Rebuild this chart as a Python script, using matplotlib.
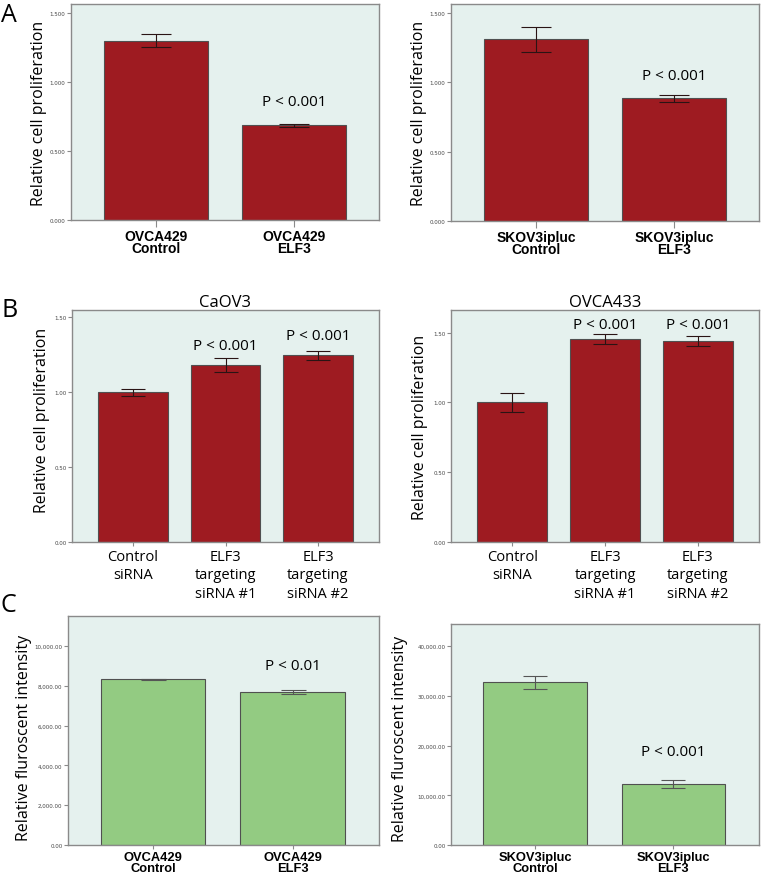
import matplotlib
matplotlib.use("Agg")
import matplotlib.pyplot as plt
from matplotlib.ticker import FuncFormatter

W, H = 761, 879

# Panel A: cell proliferation after ELF3 overexpression
a_left_labels = ["OVCA429\nControl", "OVCA429\nELF3"]
a_left_vals = [1.30, 0.686]
a_left_err = [0.05, 0.013]
a_right_labels = ["SKOV3ipluc\nControl", "SKOV3ipluc\nELF3"]
a_right_vals = [1.31, 0.885]
a_right_err = [0.088, 0.024]

# Panel B: cell proliferation after ELF3 knockdown
b_labels = ["Control\nsiRNA", "ELF3\ntargeting\nsiRNA #1", "ELF3\ntargeting\nsiRNA #2"]
b_left_vals = [1.00, 1.184, 1.247]
b_left_err = [0.024, 0.048, 0.03]
b_right_vals = [1.00, 1.455, 1.438]
b_right_err = [0.07, 0.038, 0.037]

# Panel C: fluorescent intensity
c_left_labels = ["OVCA429\nControl", "OVCA429\nELF3"]
c_left_vals = [8328, 7692]
c_left_err = [15, 100]
c_right_labels = ["SKOV3ipluc\nControl", "SKOV3ipluc\nELF3"]
c_right_vals = [32709, 12308]
c_right_err = [1340, 800]

RED = "#9e1b21"
GREEN = "#93cb82"
BG = "#e5f1ee"
SPINE = "#8a8a8a"
SANS = ["Open Sans", "DejaVu Sans"]
BOLD = ["Liberation Sans", "DejaVu Sans"]

fig = plt.figure(figsize=(W / 100, H / 100), dpi=100)


def px_axes(x0, y0, x1, y1):
    return fig.add_axes([x0 / W, 1 - y1 / H, (x1 - x0) / W, (y1 - y0) / H])


def bar_panel(ax, labels, vals, errs, color, ecolor, ylim, xlim, fmt, ylabel,
              ylabel_xy, pvals, bold_x=True, capsize=10, xtick_len=5, xfs=10):
    x = list(range(len(vals)))
    ax.set_facecolor(BG)
    ax.bar(x, vals, width=0.75, color=color, edgecolor="#505050", linewidth=0.8, zorder=2)
    ax.errorbar(x, vals, yerr=errs, fmt="none", ecolor=ecolor, elinewidth=0.8,
                capsize=capsize, capthick=0.8, zorder=3)
    ax.set_xlim(*xlim)
    ax.set_ylim(*ylim)
    ax.yaxis.set_major_formatter(FuncFormatter(fmt))
    ax.tick_params(axis="y", labelsize=4, labelcolor="#444444", length=3,
                   color=SPINE, width=0.8, pad=1)
    ax.set_xticks(x)
    if bold_x:
        ax.set_xticklabels(labels, fontsize=xfs, fontweight="bold", family=BOLD,
                           linespacing=0.85)
        pad = 1.5
    else:
        ax.set_xticklabels(labels, fontsize=10.5, family=SANS, linespacing=1.3)
        pad = 2
    ax.tick_params(axis="x", length=xtick_len, color=SPINE, width=0.8, pad=pad)
    for s in ax.spines.values():
        s.set_color(SPINE)
        s.set_linewidth(1.0)
    ax.set_ylabel(ylabel, fontsize=11.5, family=SANS)
    ax.yaxis.set_label_coords(*ylabel_xy)
    for i, txt, off in pvals:
        ax.annotate(txt, xy=(i, vals[i] + errs[i]), xytext=(0, off * 0.72),
                    textcoords="offset points", ha="center", va="center",
                    fontsize=11, family=SANS)


f3 = lambda v, p: f"{v:.3f}"
f2 = lambda v, p: f"{v:.2f}"
fc = lambda v, p: f"{v:,.2f}"

# A
ax = px_axes(71, 5, 379, 221)
bar_panel(ax, a_left_labels, a_left_vals, a_left_err, RED, "#2a1414",
          (0, 1.565), (-0.616, 1.616), f3, "Relative cell proliferation",
          (-0.078, 0.5), [(1, "P < 0.001", 22)], capsize=11)
ax.set_yticks([0, 0.5, 1.0, 1.5])

ax = px_axes(451, 5, 759, 222)
bar_panel(ax, a_right_labels, a_right_vals, a_right_err, RED, "#2a1414",
          (0, 1.565), (-0.616, 1.616), f3, "Relative cell proliferation",
          (-0.079, 0.5), [(1, "P < 0.001", 19)], capsize=11)
ax.set_yticks([0, 0.5, 1.0, 1.5])

# B
ax = px_axes(72, 311, 379, 543)
bar_panel(ax, b_labels, b_left_vals, b_left_err, RED, "#2a1414",
          (0, 1.55), (-0.66, 2.66), f2, "Relative cell proliferation",
          (-0.072, 0.53), [(1, "P < 0.001", 12), (2, "P < 0.001", 15)],
          bold_x=False, capsize=8.5, xtick_len=3)
ax.set_yticks([0, 0.5, 1.0, 1.5])
ax.set_title("CaOV3", fontsize=12, family=SANS, pad=3)

ax = px_axes(451, 311, 759, 543)
bar_panel(ax, b_labels, b_right_vals, b_right_err, RED, "#2a1414",
          (0, 1.662), (-0.66, 2.66), f2, "Relative cell proliferation",
          (-0.074, 0.5), [(1, "P < 0.001", 9), (2, "P < 0.001", 12)],
          bold_x=False, capsize=8.5, xtick_len=3)
ax.set_yticks([0, 0.5, 1.0, 1.5])
ax.set_title("OVCA433", fontsize=12, family=SANS, pad=3)

# C
ax = px_axes(68, 617, 379, 846)
bar_panel(ax, c_left_labels, c_left_vals, c_left_err, GREEN, "#555555",
          (0, 11505), (-0.61, 1.62), fc, "Relative fluroscent intensity",
          (-0.117, 0.47), [(1, "P < 0.01", 24)], capsize=9, xtick_len=3, xfs=9.3)
ax.set_yticks([0, 2000, 4000, 6000, 8000, 10000])

ax = px_axes(451, 625, 759, 846)
bar_panel(ax, c_right_labels, c_right_vals, c_right_err, GREEN, "#555555",
          (0, 44480), (-0.61, 1.62), fc, "Relative fluroscent intensity",
          (-0.139, 0.486), [(1, "P < 0.001", 28)], capsize=8.5, xtick_len=3, xfs=9.3)
ax.set_yticks([0, 10000, 20000, 30000, 40000])

# panel letters
for letter, ytop in [("A", 3), ("B", 298), ("C", 593)]:
    fig.text(1 / W, 1 - ytop / H, letter, fontsize=18, family=SANS, va="top", ha="left")

fig.savefig("out.png", dpi=100)
